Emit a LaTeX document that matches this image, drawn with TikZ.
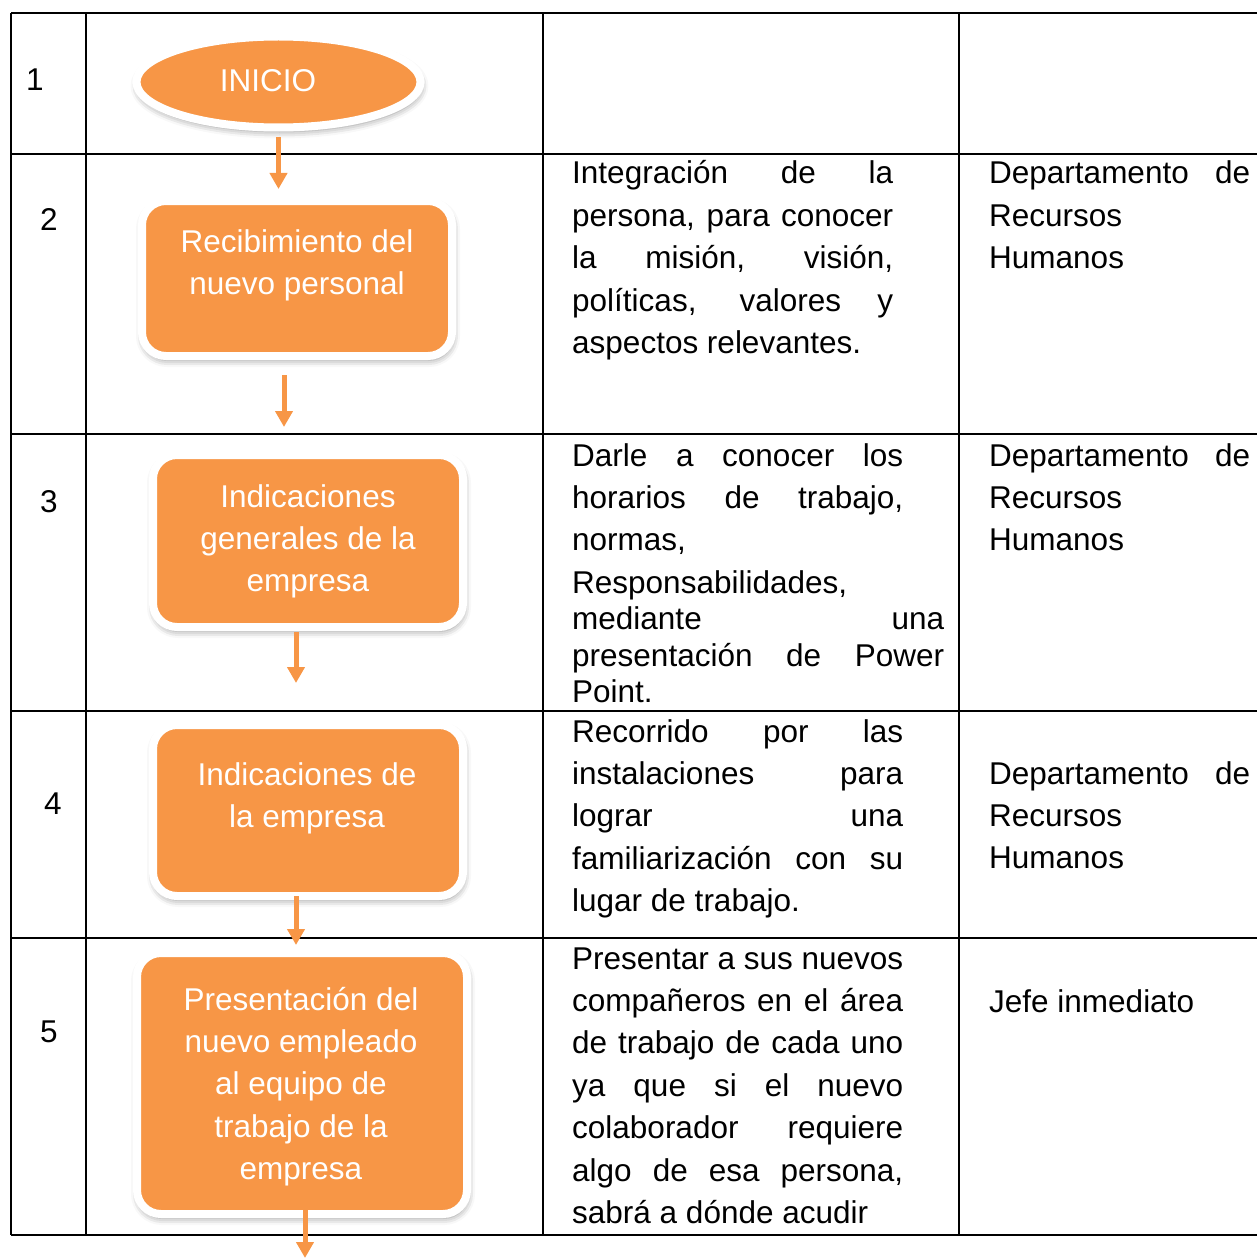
\documentclass[tikz,border=0pt]{standalone}
\usepackage{fontspec}
\setmainfont{Liberation Sans}
\usetikzlibrary{arrows.meta,shapes.geometric,shadows.blur}
\definecolor{naranja}{HTML}{F79646}
\newcommand{\letra}{\fontsize{31.5pt}{42.4pt}\selectfont}
\newcommand{\jl}[1]{\makebox[\linewidth][s]{#1}}

\begin{document}
\begin{tikzpicture}[x=1pt, y=-1pt,
  tabla/.style={line width=1.5pt},
  caja/.style={draw=white, line width=8pt, fill=naranja, inner sep=0pt, outer sep=0pt,
    blur shadow={shadow xshift=1pt, shadow yshift=-4pt, shadow blur radius=7pt, shadow opacity=45}},
  paso/.style={caja, rounded corners=24pt},
  rotulo/.style={anchor=base, inner sep=0pt, font=\letra, text=white},
  numero/.style={anchor=base, inner sep=0pt, font=\letra},
  celda/.style={anchor=base west, inner sep=0pt, font=\letra},
  flecha/.style={naranja, line width=5pt, -{Triangle[width=17pt,length=16pt]}}]
  \useasboundingbox (0,0) rectangle (1257,1260);

  \foreach \y in {13,154,434,711,938,1235}
    \draw[tabla] (11,\y) -- (1257,\y);
  \foreach \x in {11,86,543,959}
    \draw[tabla] (\x,13) -- (\x,1235);

  \node[numero] (n1) at (35,91) {1};
  \node[numero] (n2) at (49,230) {2};
  \node[numero] (n3) at (49,512) {3};
  \node[numero] (n4) at (53,814) {4};
  \node[numero] (n5) at (49,1042) {5};

  \node[caja, ellipse, minimum width=284pt, minimum height=91pt] (inicio) at (278.5,82) {};
  \node[rotulo] (t1) at (268,92) {INICIO};

  \node[paso, minimum width=310pt, minimum height=155pt] (b2) at (297,278.5) {};
  \node[rotulo] (t2) at (297,252) {\parbox[t]{330pt}{\centering Recibimiento del\\ nuevo personal}};

  \node[paso, minimum width=310pt, minimum height=172pt] (b3) at (308,541) {};
  \node[rotulo] (t3) at (308,507) {\parbox[t]{330pt}{\centering Indicaciones\\ generales de la\\ empresa}};

  \node[paso, minimum width=310pt, minimum height=171pt] (b4) at (308,810.5) {};
  \node[rotulo] (t4) at (307,785) {\parbox[t]{330pt}{\centering Indicaciones de\\ la empresa}};

  \node[paso, minimum width=330pt, minimum height=261pt] (b5) at (302,1083.5) {};
  \node[rotulo] (t5) at (301,1010) {\parbox[t]{330pt}{\centering Presentación del\\ nuevo empleado\\ al equipo de\\ trabajo de la\\ empresa}};

  \coordinate (a2) at ([xshift=-13pt]b2.south);
  \coordinate (a3) at ([xshift=-12pt]b3.south);
  \coordinate (a4) at ([xshift=-12pt]b4.south);
  \coordinate (a5) at ([xshift=3pt]b5.south);
  \coordinate (fin) at (305,1258);

  \draw[flecha, shorten <=9.5pt, shorten >=12pt] (inicio.south) -- (inicio.south |- b2.north);
  \draw[flecha, shorten <=19pt, shorten >=28pt] (a2) -- (a2 |- b3.north);
  \draw[flecha, shorten <=5pt, shorten >=42pt] (a3) -- (a3 |- b4.north);
  \draw[flecha, shorten >=8pt] (a4) -- (a4 |- b5.north);
  \draw[flecha, shorten <=-4pt] (a5) -- (fin);

  \node[celda] (d2) at (572,184) {\parbox[t]{321pt}{\jl{Integración de la}\\
    \jl{persona, para conocer}\\ \jl{la misión, visión,}\\
    \jl{políticas, valores y}\\ aspectos relevantes.}};
  \node[celda] (d3) at (572,466) {\parbox[t]{331pt}{\jl{Darle a conocer los}\\
    \jl{horarios de trabajo,}\\ normas,\\ Responsabilidades,\\[-6pt]
    \makebox[372pt][s]{mediante una}\\[-6pt]
    \makebox[372pt][s]{presentación de Power}\\[-6pt] Point.}};
  \node[celda] (d4) at (572,742) {\parbox[t]{331pt}{\jl{Recorrido por las}\\
    \jl{instalaciones para}\\ \jl{lograr una}\\
    \jl{familiarización con su}\\ lugar de trabajo.}};
  \node[celda] (d5) at (572,969) {\parbox[t]{331pt}{\jl{Presentar a sus nuevos}\\
    \jl{compañeros en el área}\\ \jl{de trabajo de cada uno}\\
    \jl{ya que si el nuevo}\\ \jl{colaborador requiere}\\
    \jl{algo de esa persona,}\\ sabrá a dónde acudir}};

  \node[celda] (r2) at (989,184) {\parbox[t]{261pt}{\jl{Departamento de}\\ Recursos\\ Humanos}};
  \node[celda] (r3) at (989,466) {\parbox[t]{261pt}{\jl{Departamento de}\\ Recursos\\ Humanos}};
  \node[celda] (r4) at (989,784) {\parbox[t]{261pt}{\jl{Departamento de}\\ Recursos\\ Humanos}};
  \node[celda] (r5) at (989,1012) {Jefe inmediato};
\end{tikzpicture}
\end{document}
